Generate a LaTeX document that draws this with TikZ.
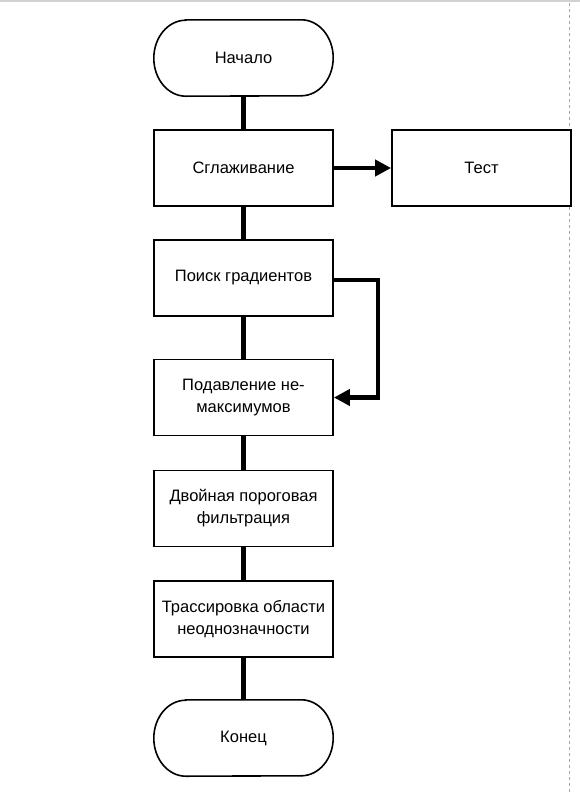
\documentclass[tikz,border=0pt]{standalone}
\usepackage{fontspec}
\setmainfont{Liberation Sans}
\usetikzlibrary{arrows.meta}
\tikzset{
  box/.style={draw=black, line width=1.8pt, minimum width=179pt, minimum height=76pt,
    inner sep=2pt, align=center, font=\fontsize{16.5}{22}\selectfont, fill=white},
  termbox/.style={draw=none, minimum width=179pt, minimum height=76pt,
    inner sep=2pt, align=center, font=\fontsize{16.5}{22}\selectfont},
  termline/.style={draw=black, line width=1.6pt},
  conn/.style={draw=black, line width=4.3pt},
  arrconn/.style={conn, -{Triangle[length=16pt,width=16pt]}},
}
\begin{document}
\begin{tikzpicture}[x=1pt,y=-1pt]
\useasboundingbox (0,0) rectangle (580,793);
% frame lines
\draw[black!18, line width=1.5pt] (0,1) -- (580,1);
\draw[black!35, line width=1pt, dash pattern=on 3pt off 3pt] (569,3) -- (569,793);

% nodes
\node[termbox] (start) at (243.5,58) {Начало};
\node[box] (smooth) at (243.5,168) {Сглаживание};
\node[box] (test) at (481.5,168) {Тест};
\node[box] (grad) at (243.5,278) {Поиск градиентов};
\node[box] (nms) at (243.5,397.5) {Подавление не-\\максимумов};
\node[box] (thr) at (243.5,508.5) {Двойная пороговая\\фильтрация};
\node[box] (trace) at (243.5,619) {Трассировка области\\неоднозначности};
\node[termbox] (finish) at (243.5,738) {Конец};

% terminators
\foreach \n in {start,finish}{
  \draw[termline] ([xshift=32pt]\n.north west) -- ([xshift=-32pt]\n.north east)
    arc[start angle=90, end angle=-90, x radius=32pt, y radius=38pt]
    -- ([xshift=32pt]\n.south west)
    arc[start angle=270, end angle=90, x radius=32pt, y radius=38pt] -- cycle;
}

% connectors
\draw[conn] (start) -- (smooth);
\draw[conn] (smooth) -- (grad);
\draw[conn] (grad) -- (nms);
\draw[conn] (nms) -- (thr);
\draw[conn] (thr) -- (trace);
\draw[conn] (trace) -- (finish);
\draw[arrconn] (smooth) -- (test);
\coordinate (bend) at ([xshift=44pt,yshift=-2pt]grad.east);
\draw[arrconn] ([yshift=-2pt]grad.east) -- (bend) |- (nms.east);
\end{tikzpicture}
\end{document}
